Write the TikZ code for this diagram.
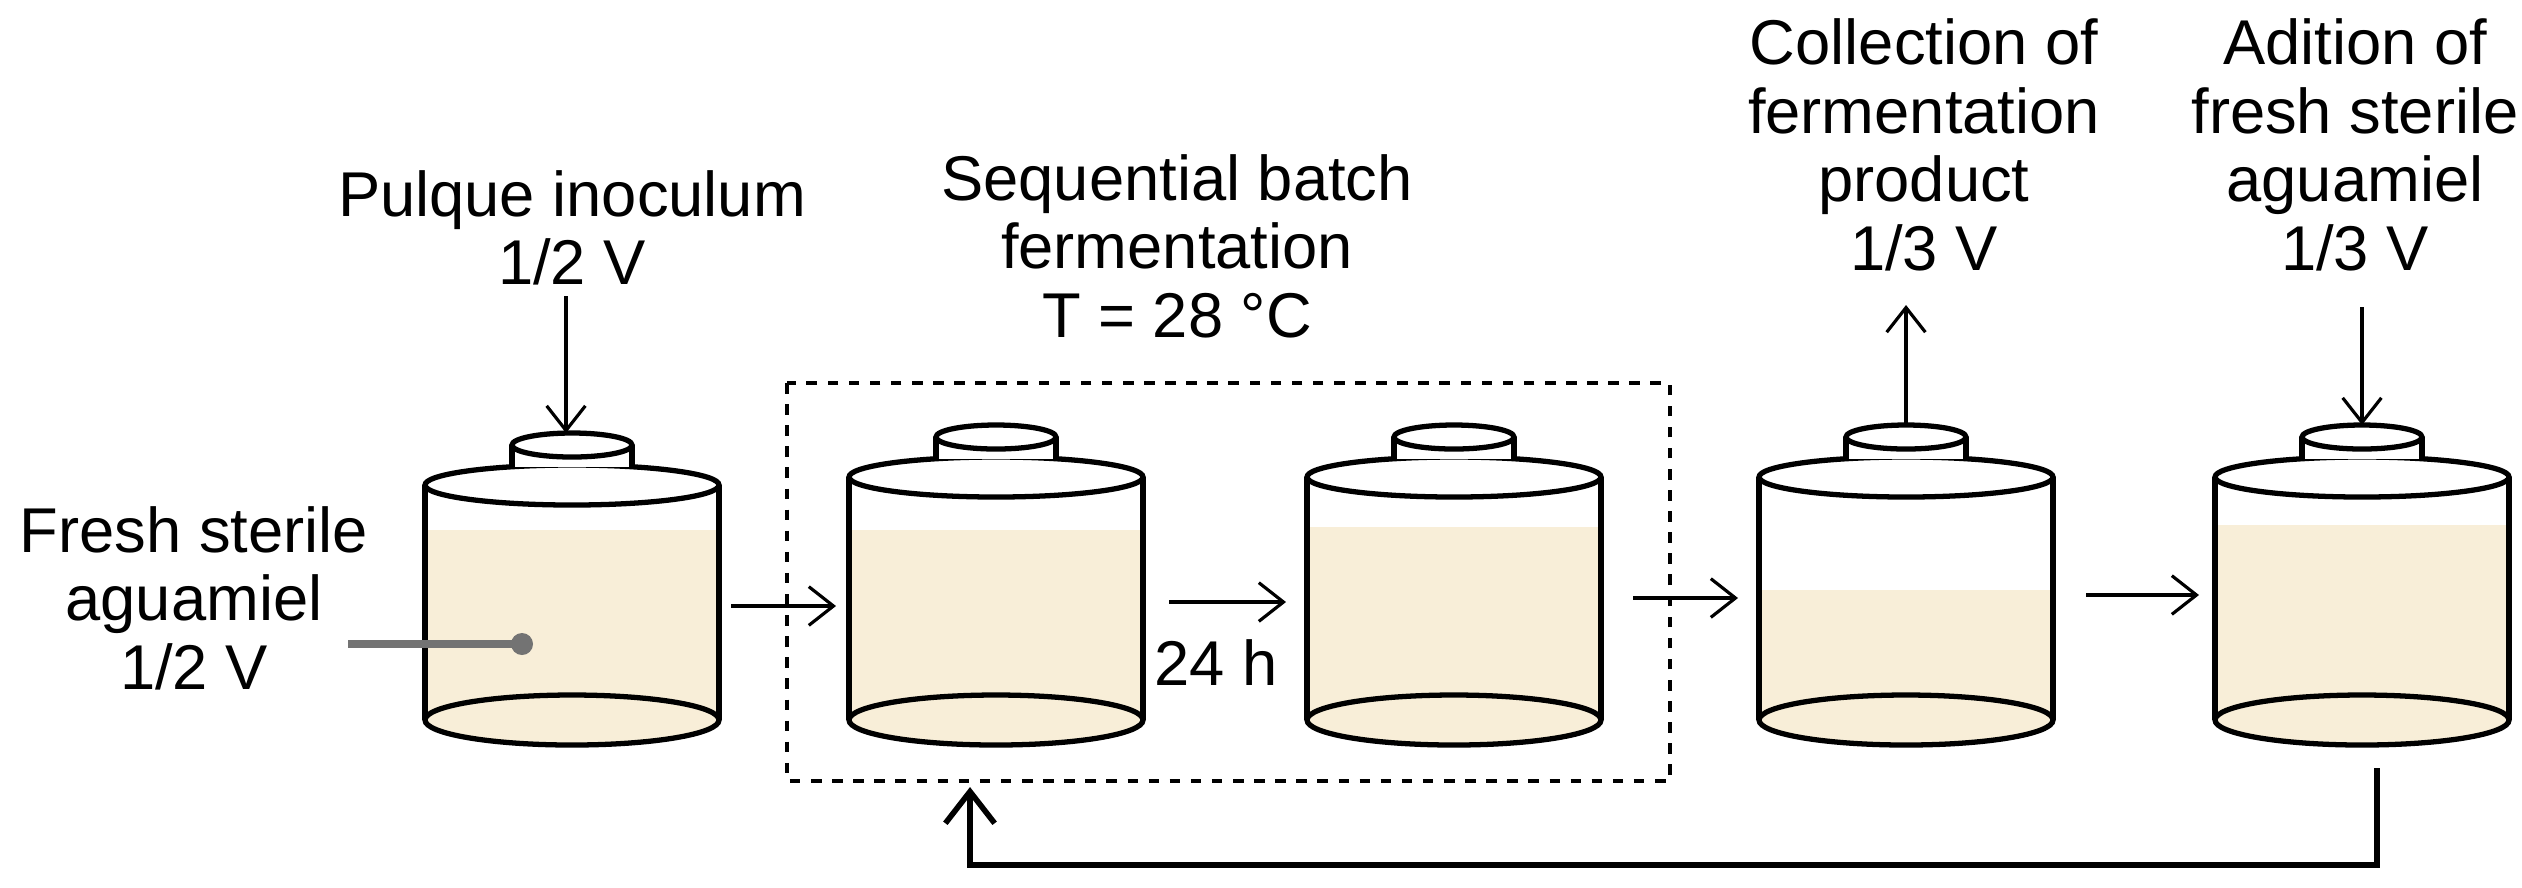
\documentclass[tikz,border=0pt]{standalone}
\usepackage{fontspec}
\setmainfont{Liberation Sans}
\usetikzlibrary{arrows.meta}
\definecolor{liq}{HTML}{F8EED8}
\tikzset{
  tankline/.style={line width=1.5pt},
  flow/.style={line width=0.9pt,-{Straight Barb[length=7pt,width=11pt]}},
  lbl/.style={font=\fontsize{18}{19.5}\selectfont,align=center,inner sep=0pt},
}
% \tank{name}{cx}{top ellipse y}{fill y}
\newcommand\tank[4]{%
  \fill[liq] (#2-147,#4) rectangle (#2+147,720);
  \fill[liq] (#2,720) ellipse [x radius=147,y radius=25];
  \draw[tankline] (#2-147,#3) -- (#2-147,720) (#2+147,#3) -- (#2+147,720);
  \draw[tankline] (#2,#3) ellipse [x radius=147,y radius=20];
  \draw[tankline] (#2,720) ellipse [x radius=147,y radius=25];
  \fill[white] (#2-60,#3-40) rectangle (#2+60,#3-18);
  \draw[tankline] (#2-60,#3-18) -- (#2-60,#3-40) (#2+60,#3-18) -- (#2+60,#3-40);
  \draw[tankline,fill=white] (#2,#3-40) ellipse [x radius=60,y radius=12];
  \coordinate (#1-top) at (#2,#3-52);
}
\begin{document}
\begin{tikzpicture}[x=0.01cm,y=-0.01cm]
\useasboundingbox (0,0) rectangle (2522,887);
\tank{t1}{572}{485}{530}
\tank{t2}{996}{477}{530}
\tank{t3}{1454}{477}{527}
\tank{t4}{1906}{477}{590}
\tank{t5}{2362}{477}{525}
% dashed box
\draw[dashed,line width=0.9pt] (787,383) rectangle (1670,781);
\coordinate (boxb) at (970,787);
% labels
\node[lbl] (pi) at (572,228) {Pulque inoculum\\1/2 V};
\node[lbl] (fa) at (194,598) {Fresh sterile\\aguamiel\\1/2 V};
\node[lbl] (sb) at (1177,246) {Sequential batch\\fermentation\\T = 28 °C};
\node[lbl] (h24) at (1216,663) {24 h};
\node[lbl] (cf) at (1924,145) {Collection of\\fermentation\\product\\1/3 V};
\node[lbl] (af) at (2355,145) {Adition of\\fresh sterile\\aguamiel\\1/3 V};
% gray pointer
\coordinate (dot) at (522,644);
\draw[gray!90!black,line width=2.2pt] (348,644) -- (dot);
\fill[gray!90!black] (dot) circle (11);
% flows
\draw[flow] (t1-top |- pi.south) ++(-6,10) coordinate (a1) -- (a1 |- t1-top);
\draw[flow] (731,606) coordinate (s1) -- (836,606) coordinate (e1);
\draw[flow] (1169,602) coordinate (s2) -- (1286,602) coordinate (e2);
\draw[flow] (1633,598) coordinate (s3) -- (1738,598) coordinate (e3);
\draw[flow] (2086,595) coordinate (s4) -- (2199,595) coordinate (e4);
\draw[flow] (t4-top) -- ++(0,-120);
\draw[flow] (t5-top) ++(0,-118) coordinate (a5) -- (t5-top);
% feedback
\draw[line width=1.6pt,-{Straight Barb[length=9pt,width=14pt]}] (2377,768) -- (2377,865) -- (970,865) -- (boxb);
\end{tikzpicture}
\end{document}
